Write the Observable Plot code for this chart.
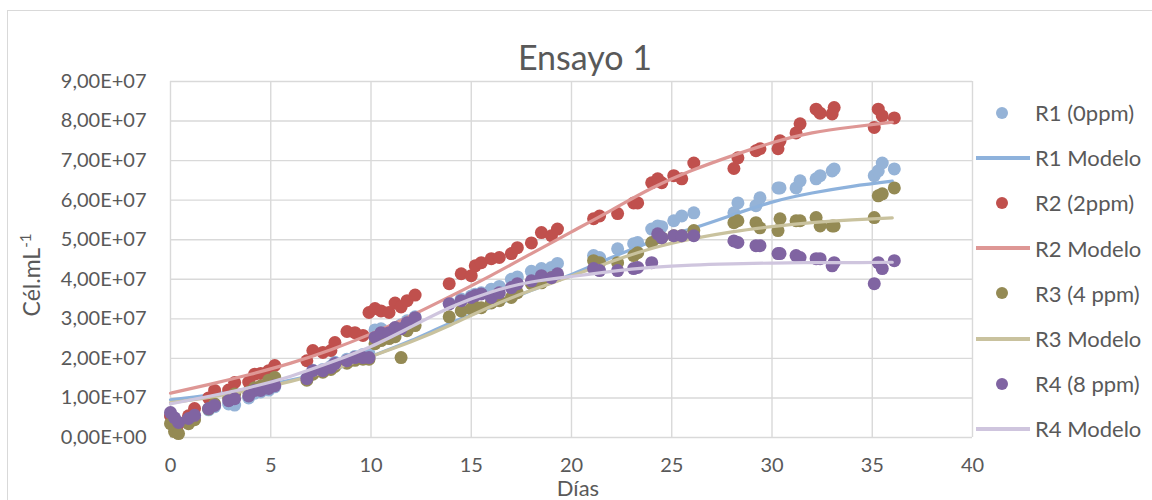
<!DOCTYPE html>
<html>
<head>
<meta charset="utf-8">
<script src="https://cdn.jsdelivr.net/npm/d3@7"></script>
<script src="https://cdn.jsdelivr.net/npm/@observablehq/plot@0.6"></script>
<style>
  body { margin: 0; background: #fff; font-family: Lato, "Open Sans", sans-serif; color: #595959; }
  #chart { position: relative; width: 1152px; height: 500px; overflow: hidden; background: #fff; }
  #frame { position: absolute; left: 7px; top: 10px; width: 1300px; height: 700px; border: 1px solid #D9D9D9; box-sizing: border-box; }
  #plot { position: absolute; left: 0; top: 0; }
  #title { position: absolute; left: 385px; width: 400px; top: 37px; text-align: center; font-size: 34px; line-height: 40px; }
  #ylabel { position: absolute; left: 31px; top: 275px; transform: translate(-50%, -50%) rotate(-90deg); white-space: nowrap; font-size: 23px; }
  #ylabel sup { font-size: 15px; vertical-align: 9px; line-height: 0; }
  #xlabel { position: absolute; left: 478px; width: 200px; top: 476px; text-align: center; font-size: 22px; line-height: 23px; }
  #legend { position: absolute; left: 976px; top: 90px; }
  .item { height: 45.2px; display: flex; align-items: center; font-size: 22px; white-space: nowrap; }
  .item svg { width: 54px; height: 20px; margin-right: 5px; flex: none; }
</style>
</head>
<body>
<div id="chart">
  <div id="frame"></div>
  <div id="plot"></div>
  <div id="title">Ensayo 1</div>
  <div id="ylabel">Cél.mL<sup>-1</sup></div>
  <div id="xlabel">Días</div>
  <div id="legend"></div>
</div>
<script>
// Sampling days (shared by the four reactors)
const days = [
  0, 0.2, 0.4, 0.9, 1.2, 1.9, 2.2, 2.9, 3.2, 3.9, 4.2, 4.5, 4.9, 5.2,
  6.8, 7.1, 7.6, 8.0, 8.2, 8.8, 9.2, 9.6, 9.9, 10.2, 10.5, 10.9, 11.2, 11.5, 11.8, 12.2,
  13.9, 14.5, 15.0, 15.2, 15.5, 16.0, 16.4, 17.0, 17.3, 18.0, 18.5, 19.0, 19.3,
  21.1, 21.4, 22.3, 23.1, 23.3, 24.0, 24.3, 24.5, 25.1, 25.5, 26.1,
  28.1, 28.3, 29.2, 29.4, 30.3, 30.4, 31.2, 31.4, 32.2, 32.4, 33.0, 33.1,
  35.1, 35.3, 35.5, 36.1
];

// Measured cell densities, in units of 1E+07 cél/mL
const r1Vals = [
  0.55, 0.45, 0.35, 0.45, 0.52, 0.70, 0.78, 0.85, 0.82, 1.00, 1.12, 1.15, 1.20, 1.28,
  1.50, 1.70, 1.72, 1.80, 1.90, 1.98, 2.05, 2.10, 2.12, 2.72, 2.75, 2.62, 2.75, 2.85, 2.95, 3.05,
  3.40, 3.50, 3.58, 3.62, 3.66, 3.75, 3.82, 4.00, 4.06, 4.20, 4.27, 4.30, 4.40,
  4.60, 4.55, 4.77, 4.90, 4.93, 5.27, 5.35, 5.33, 5.48, 5.60, 5.68,
  5.68, 5.93, 5.86, 6.06, 6.31, 6.31, 6.31, 6.49, 6.54, 6.62, 6.74, 6.79,
  6.62, 6.74, 6.94, 6.79
];
const r2Vals = [
  0.55, 0.45, 0.35, 0.55, 0.73, 1.00, 1.19, 1.20, 1.39, 1.40, 1.60, 1.62, 1.69, 1.82,
  1.94, 2.20, 2.15, 2.20, 2.40, 2.68, 2.65, 2.58, 3.16, 3.26, 3.20, 3.16, 3.40, 3.30, 3.46, 3.60,
  3.89, 4.14, 4.09, 4.34, 4.42, 4.52, 4.55, 4.65, 4.80, 4.92, 5.18, 5.10, 5.27,
  5.53, 5.60, 5.66, 5.93, 5.93, 6.44, 6.54, 6.44, 6.62, 6.54, 6.94,
  6.80, 7.07, 7.25, 7.30, 7.30, 7.50, 7.70, 7.93, 8.30, 8.20, 8.18, 8.34,
  7.84, 8.30, 8.13, 8.08
];
const r3Vals = [
  0.35, 0.15, 0.10, 0.35, 0.45, 0.72, 0.85, 1.00, 1.10, 1.15, 1.26, 1.30, 1.45, 1.52,
  1.45, 1.60, 1.65, 1.72, 1.80, 1.88, 1.95, 1.98, 1.98, 2.37, 2.45, 2.50, 2.55, 2.02, 2.70, 2.83,
  3.05, 3.20, 3.26, 3.30, 3.28, 3.40, 3.46, 3.54, 3.66, 3.89, 3.91, 4.04, 4.09,
  4.47, 4.42, 4.42, 4.60, 4.67, 4.93, 5.05, 5.05, 5.10, 5.10, 5.23,
  5.43, 5.48, 5.43, 5.30, 5.23, 5.53, 5.48, 5.48, 5.56, 5.35, 5.35, 5.35,
  5.56, 6.11, 6.16, 6.31
];
const r4Vals = [
  0.63, 0.50, 0.38, 0.48, 0.56, 0.73, 0.81, 0.93, 0.98, 1.05, 1.19, 1.19, 1.24, 1.31,
  1.49, 1.69, 1.69, 1.77, 1.87, 1.94, 2.02, 2.02, 2.02, 2.53, 2.65, 2.65, 2.78, 2.75, 2.90, 3.03,
  3.38, 3.46, 3.54, 3.59, 3.63, 3.54, 3.66, 3.79, 3.89, 3.96, 4.09, 4.04, 4.14,
  4.27, 4.22, 4.22, 4.27, 4.30, 4.42, 5.15, 5.05, 5.10, 5.10, 5.10,
  4.97, 4.93, 4.85, 4.85, 4.65, 4.65, 4.60, 4.55, 4.52, 4.52, 4.34, 4.42,
  3.89, 4.42, 4.27, 4.47
];

// Fitted growth model, sampled every two days (units of 1E+07 cél/mL)
const modelDays = [0, 2, 4, 6, 8, 10, 12, 14, 16, 18, 20, 22, 24, 26, 28, 30, 32, 34, 36];
const r1Model = [0.95, 1.08, 1.25, 1.45, 1.70, 2.05, 2.45, 2.90, 3.30, 3.72, 4.12, 4.55, 4.95, 5.28, 5.62, 5.95, 6.18, 6.35, 6.48];
const r2Model = [1.12, 1.35, 1.60, 1.88, 2.22, 2.62, 3.08, 3.58, 4.10, 4.65, 5.20, 5.75, 6.30, 6.75, 7.12, 7.45, 7.70, 7.85, 7.97];
const r3Model = [0.88, 1.02, 1.20, 1.42, 1.70, 2.05, 2.42, 2.85, 3.32, 3.72, 4.08, 4.45, 4.78, 5.02, 5.20, 5.33, 5.43, 5.50, 5.55];
const r4Model = [0.85, 1.05, 1.27, 1.55, 1.90, 2.30, 2.80, 3.30, 3.68, 3.93, 4.07, 4.20, 4.30, 4.36, 4.39, 4.41, 4.42, 4.42, 4.43];

const unit = 1e7;
const xTicks = [0, 5, 10, 15, 20, 25, 30, 35, 40];
const yTicks = [0, 1e7, 2e7, 3e7, 4e7, 5e7, 6e7, 7e7, 8e7, 9e7];

const series = [
  {name: "R1 (0ppm)", model: "R1 Modelo", vals: r1Vals, fit: r1Model, dot: "#95B3D7", line: "#8EB2DC"},
  {name: "R2 (2ppm)", model: "R2 Modelo", vals: r2Vals, fit: r2Model, dot: "#C0504D", line: "#DE9795"},
  {name: "R3 (4 ppm)", model: "R3 Modelo", vals: r3Vals, fit: r3Model, dot: "#948A54", line: "#C9C29E"},
  {name: "R4 (8 ppm)", model: "R4 Modelo", vals: r4Vals, fit: r4Model, dot: "#8064A2", line: "#CFC5DE"}
];

// Excel-style scientific labels: 9,00E+07
function sci(v) {
  if (v === 0) return "0,00E+00";
  const e = Math.floor(Math.log10(Math.abs(v)));
  const m = v / Math.pow(10, e);
  return m.toFixed(2).replace(".", ",") + "E" + (e < 0 ? "-" : "+") + String(Math.abs(e)).padStart(2, "0");
}

const marks = [
  Plot.gridX(xTicks, {stroke: "#D9D9D9", strokeOpacity: 1, strokeWidth: 1.4}),
  Plot.gridY(yTicks, {stroke: "#D9D9D9", strokeOpacity: 1, strokeWidth: 1.4}),
  Plot.axisX(xTicks, {tickSize: 0, tickPadding: 20, label: null, fontSize: 20}),
  Plot.axisY(yTicks, {tickSize: 0, tickPadding: 24, tickFormat: sci, label: null, fontSize: 20})
];
for (const s of series) {
  const pts = days.map((d, i) => ({d, v: s.vals[i] * unit}));
  const fit = modelDays.map((d, i) => ({d, v: s.fit[i] * unit}));
  marks.push(Plot.dot(pts, {x: "d", y: "v", r: 6.5, fill: s.dot, stroke: null}));
  marks.push(Plot.line(fit, {x: "d", y: "v", stroke: s.line, strokeWidth: 3.2, curve: "natural"}));
}

const plot = Plot.plot({
  width: 1152,
  height: 500,
  marginLeft: 170,
  marginRight: 180,
  marginTop: 81,
  marginBottom: 63,
  x: {domain: [0, 40]},
  y: {domain: [0, 9e7]},
  style: {fontFamily: "Lato, 'Open Sans', sans-serif", color: "#595959", background: "transparent"},
  marks
});
document.getElementById("plot").appendChild(plot);

// Legend: points and model lines alternate, as in the series order
const legend = d3.select("#legend");
for (const s of series) {
  const a = legend.append("div").attr("class", "item");
  a.append("svg").attr("viewBox", "0 0 54 20")
    .append("circle").attr("cx", 26).attr("cy", 10).attr("r", 6).attr("fill", s.dot);
  a.append("span").text(s.name);
  const b = legend.append("div").attr("class", "item");
  b.append("svg").attr("viewBox", "0 0 54 20")
    .append("line").attr("x1", 0).attr("x2", 54).attr("y1", 10).attr("y2", 10)
    .attr("stroke", s.line).attr("stroke-width", 4).attr("stroke-linecap", "round");
  b.append("span").text(s.model);
}
</script>
</body>
</html>
